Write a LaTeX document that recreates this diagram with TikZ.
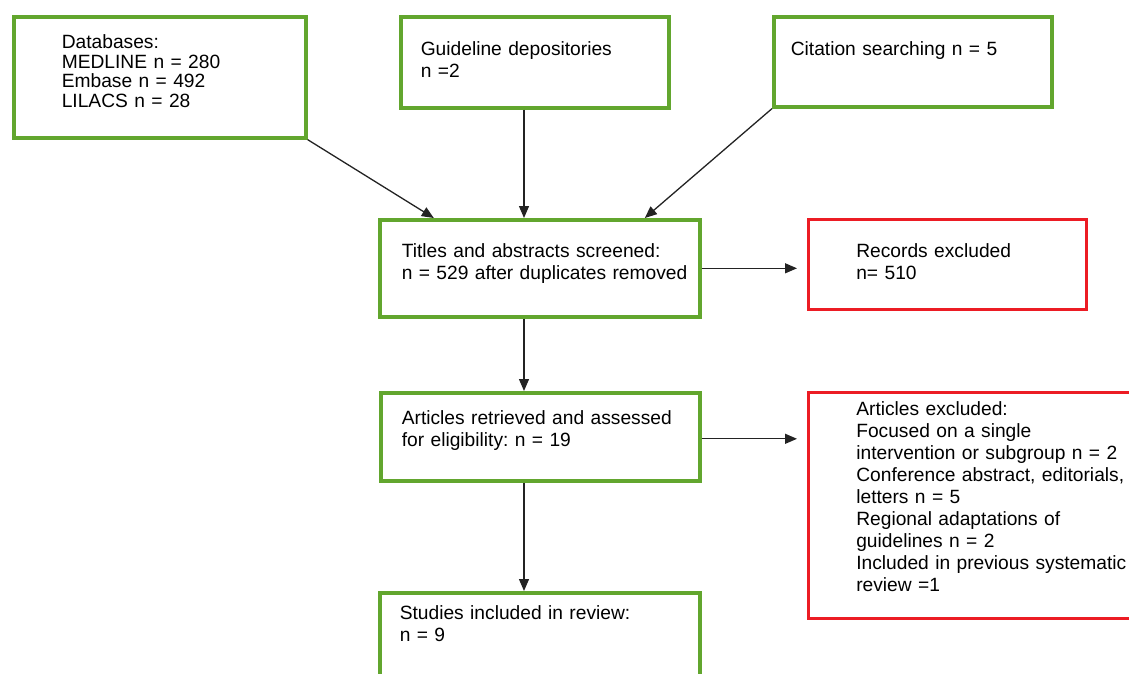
\documentclass[tikz,border=0pt]{standalone}
\usepackage{fontspec}
\setmainfont{Liberation Sans}
\usetikzlibrary{
    arrows.meta,
    positioning
}
\definecolor{boxgreen}{RGB}{98,166,46}
\definecolor{boxred}{RGB}{236,28,36}
\definecolor{arrowgray}{RGB}{35,35,35}

\begin{document}
\begin{tikzpicture}[
    x=1pt,
    y=-1pt,
    stage/.style={
        rectangle,
        draw=boxgreen,
        line width=3.6pt,
        anchor=north west,
        align=left,
        inner xsep=0pt,
        inner ysep=0pt,
        font=\fontsize{19.2}{22}\selectfont\frenchspacing
    },
    excluded/.style={
        stage,
        draw=boxred,
        line width=2.6pt
    },
    textindent/.style={
        execute at begin node={\leftskip=#1\relax}
    },
    arrow/.style={
        -{Triangle[length=12pt,width=10pt]},
        line width=1.3pt,
        draw=arrowgray
    }
]

\useasboundingbox (0,0) rectangle (1129,673);

% sources

\node[
    stage,
    text width=292pt,
    textindent=48pt,
    text height=32pt,
    text depth=89pt,
    font=\fontsize{19.2}{19.4}\selectfont
] (databases) at (12,15) {
    Databases:\\
    MEDLINE n = 280\\
    Embase n = 492\\
    LILACS n = 28
};

\node[
    stage,
    text width=268pt,
    textindent=20pt,
    text height=39pt,
    text depth=52pt
] (guidelines) at (399,15) {
    Guideline depositories\\
    n =2
};

\node[
    stage,
    text width=278pt,
    textindent=17pt,
    text height=39pt,
    text depth=51pt
] (citations) at (772,15) {
    Citation searching n = 5
};

% screening

\node[
    stage,
    text width=320pt,
    textindent=22pt,
    text height=38pt,
    text depth=59pt
] (screened) at (378,218) {
    Titles and abstracts screened:\\
    n = 529 after duplicates removed
};

\node[
    excluded,
    text width=278pt,
    textindent=48pt,
    text height=38pt,
    text depth=52pt
] (records) at (807,218) {
    Records excluded\\
    n= 510
};

% eligibility

\node[
    stage,
    text width=319pt,
    textindent=21pt,
    text height=32pt,
    text depth=56pt
] (retrieved) at (379,391) {
    Articles retrieved and assessed\\
    for eligibility: n = 19
};

\node[
    excluded,
    text width=370pt,
    textindent=48pt,
    text height=23pt,
    text depth=203pt
] (articles) at (807,391) {
    Articles excluded:\\
    Focused on a single\\
    intervention or subgroup n = 2\\
    Conference abstract, editorials,\\
    letters n = 5\\
    Regional adaptations of\\
    guidelines n = 2\\
    Included in previous systematic\\
    review =1
};

% included

\node[
    stage,
    text width=320pt,
    textindent=20pt,
    text height=27pt,
    text depth=82pt
] (included) at (378,591) {
    Studies included in review:\\
    n = 9
};

\coordinate (spine) at (524,0);

% sources to screening

\draw[arrow]
    (databases.south east) --
    ([xshift=-106pt]screened.north);

\draw[arrow]
    (guidelines.south -| spine) --
    (screened.north -| spine);

\draw[arrow]
    (citations.south west) --
    ([xshift=105pt]screened.north);

% screening to eligibility

\draw[arrow]
    (screened.east) --
    ([xshift=-10pt]screened.east -| records.west);

\draw[arrow]
    (screened.south -| spine) --
    (retrieved.north -| spine);

% eligibility to included

\draw[arrow]
    ([yshift=-2pt]retrieved.east) --
    ([xshift=-10pt,yshift=-2pt]retrieved.east -| articles.west);

\draw[arrow]
    (retrieved.south -| spine) --
    (included.north -| spine);

\end{tikzpicture}
\end{document}
